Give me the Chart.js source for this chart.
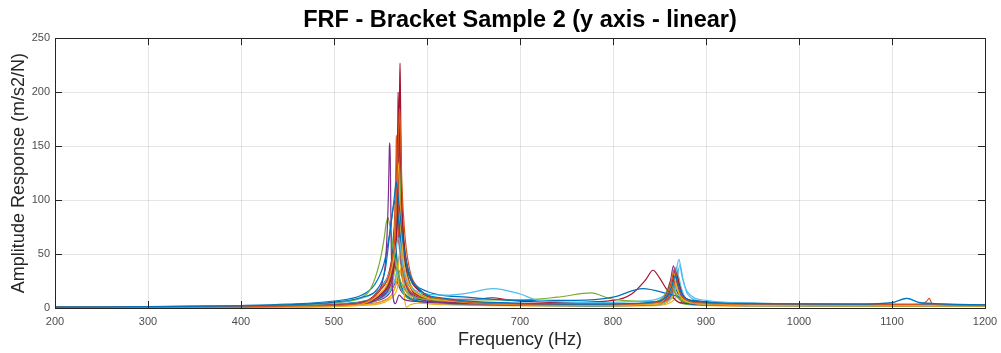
<!DOCTYPE html>
<html>
<head>
<meta charset="utf-8">
<script src="https://cdn.jsdelivr.net/npm/chart.js@4.4.1/dist/chart.umd.min.js"></script>
<style>
  html, body { margin: 0; padding: 0; background: #fff; }
</style>
</head>
<body>
<canvas id="frfChart" width="1001" height="353"></canvas>
<script>
// Axis ticks
const freqTicks = [200, 300, 400, 500, 600, 700, 800, 900, 1000, 1100, 1200];
const ampTicks = [0, 50, 100, 150, 200, 250];

const f01 = [200,300,400,450,500,530,546,555,560,564.5,566,567,568,569.5,574,580,592,620,700,780,847,859,864,867,870,875,892,950,1050,1100,1116,1130,1200];
const a01 = [0.8,1.2,2.0,3.0,5.5,10,17,35,69,100,112,117,110,100,62,35,17,9,4.5,3.5,6,12,22,30,22,12,6,4,3.5,5,9,5,3];
const f02 = [200,300,400,450,500,530,551,561,566,568,569.5,570.5,571.5,573,576,581,591,620,700,780,846,858,863,866,869,874,891,950,1050,1130,1137,1140,1143,1150,1200];
const a02 = [0.5,0.7,1.1,1.6,2.6,4.5,18.5,37,74,126,166,185,163,115,70,37,18.5,8,3.5,3,5,12,25,36,25,12,5,3.5,3,3.5,6,9,4,3,2.5];
const f03 = [200,300,400,450,500,530,549,559,564,566.5,568,569,570,571.5,574,579,589,620,700,780,845,857,862,865,868,873,890,950,1050,1200];
const a03 = [0.3,0.5,0.8,1.2,2.0,3.8,13.5,27,51,92,122,135,119,84,51,27,13.5,7,3,2.5,4,10,22,33,22,10,4.5,3,2.5,2];
const f04 = [200,300,400,450,500,530,545,552,556,558.5,559.5,560,560.5,561.5,563,566,570,575,590,620,700,780,845,857,862,865,868,873,890,950,1050,1200];
const a04 = [0.5,0.8,1.2,1.8,3.0,5.5,12,24,50,105,148,153,140,60,15,4,12,8,6,4.5,3.5,3,5,12,26,39,26,12,5,3.5,3,2.5];
const f05 = [200,300,400,450,500,530,539,549,554,556,557.5,558,558.5,560,562,567,578,600,650,700,780,842,854,859,862,865,870,887,950,1050,1200];
const a05 = [0.7,1.1,1.8,2.8,5.0,10,17,42,65,78,83,84,83,76,65,38,15,8,5.5,4,3.5,5,10,18,25,18,9,4.5,3.5,3,2.5];
const f06 = [200,300,400,450,500,530,545,555,562,566,568,569.5,571,573,577,585,600,620,645,671,700,720,780,840,856,864,868,871,874,880,900,950,1050,1200];
const a06 = [0.7,1.0,1.6,2.4,4.5,9,15,24,38,52,62,65,60,45,28,18,13,12,14,18,13,7,5,7,12,22,35,45,30,15,7,4.5,3.5,3];
const f07 = [200,300,400,450,500,530,552,562,567,569.5,570.5,571,571.5,572.5,575,580,590,620,700,780,847,859,864,867,870,875,892,950,1050,1200];
const a07 = [0.4,0.6,1.0,1.5,2.5,4.5,14,30,62,130,200,227,195,120,58,26,12,6,3.5,3,5,12,26,35,26,12,5,3.5,3,2.5];
const f08 = [200,300,400,450,500,530,544,554,560,563.5,565,566,567,568.5,572,578,593,643,700,760,800,832,860,886,950,1050,1200];
const a08 = [0.9,1.4,2.3,3.5,6.5,12,22,42,70,92,98,100,97,88,62,36,18,10,7,7,10,18,13,7,4.5,3.5,3];
const f09 = [200,300,400,450,500,530,550,559,564,566.5,567.5,568,568.5,569.5,572,577,588,620,700,780,848,860,865,868,871,876,893,950,1050,1200];
const a09 = [0.5,0.7,1.1,1.6,2.7,4.8,12,24,46,82,108,120,106,74,46,24,12,7,3.5,3,4.5,10,20,28,20,10,4.5,3.5,3,2.5];
const f10 = [200,300,400,450,500,530,552,562,567,570,571,572,573,574.5,576,578,582,590,620,700,780,850,862,866,869,872,877,895,950,1050,1200];
const a10 = [0.3,0.4,0.6,0.9,1.5,2.8,6,12,24,45,56,60,50,25,8,0.8,3,4.5,4,3,2.5,3.5,8,14,20,14,7,3.5,2.5,2,2];
const f11 = [200,300,400,450,500,530,549,559,564,566.5,568,569,570,571.5,574,579,589,620,700,780,846,858,863,866,869,874,891,950,1050,1200];
const a11 = [0.4,0.6,1.0,1.4,2.4,4.2,9,18,34,61,81,90,79,56,34,18,9,5,3.5,3,4.5,11,24,35,24,11,5,3.5,3,2.5];
const f12 = [200,300,400,450,500,530,550,560,565,567.5,569,570,571,572.5,575,580,590,620,700,740,777,795,810,845,856,861,864,867,872,890,950,1050,1200];
const a12 = [0.6,0.8,1.3,1.9,3.2,5.8,14,28,53,95,126,140,123,87,53,28,14,8,7.5,10,14,9,7,6,9,14,18,14,8,5,4,3.5,3];
const f13 = [200,300,400,450,500,530,551,561,566,569,570,571,572,573.5,576,581,591,620,700,780,852,864,869,872,875,880,897,950,1050,1100,1116,1130,1200];
const a13 = [0.6,0.8,1.2,1.8,3.0,5,10,17,28,42,48,50,46,36,24,14,9,6,4,3.5,5,12,28,40,28,13,6,4,3.5,5,9,5,3];
const f14 = [200,300,400,450,500,530,550,560,565,567.5,569,570,571,572.5,575,580,590,620,650,670,690,750,800,820,835,843,850,858,872,900,950,1050,1200];
const a14 = [0.5,0.7,1.1,1.7,2.8,5,17,34,65,116,153,170,150,105,65,34,17,8,8,9.5,7,5,7,13,26,35,28,17,5,4,3.5,3,3];
const f15 = [200,300,400,450,500,530,545,555,560,563,564,565,566,567.5,570,575,585,620,700,780,846,858,863,866,869,874,891,950,1050,1200];
const a15 = [0.3,0.5,0.8,1.2,2.0,3.8,7.5,15,28.5,51,67.5,75,66,46.5,28.5,15,7.5,4,2.5,2,3,6,11,15,11,6,3,2.2,2,1.8];
const f16 = [200,300,400,450,500,530,549,559,564,566,566.8,567,567.5,568.5,571,576,586,620,700,780,847,859,864,867,870,875,892,950,1050,1200];
const a16 = [0.4,0.6,0.9,1.4,2.3,4.2,16,32,61,109,144,160,141,99,61,32,16,7,3,2.5,4,9,18,25,18,9,4,3,2.5,2];
const f17 = [200,300,400,450,500,530,553,563,568,571,572,573,574,575.5,578,583,593,620,700,780,850,862,867,870,873,878,895,950,1050,1200];
const a17 = [0.2,0.3,0.5,0.8,1.3,2.3,5,10,18,32,38,40,36,27,16,9,5,3,2,1.8,2.5,5,9,12,9,5,2.5,1.8,1.6,1.5];
const f18 = [200,300,400,450,500,530,550,559,564,566.5,567.5,568,568.5,569.5,572,577,588,620,700,780,848,860,865,868,871,876,893,950,1050,1200];
const a18 = [0.5,0.7,1.1,1.6,2.7,4.6,11,22,42,75,99,110,97,68,42,22,11,6,3.5,3,4,8,16,22,16,8,4,3,2.5,2.2];
const f19 = [200,300,400,450,500,530,546,556,561,564,565,566,567,568.5,571,576,586,620,700,780,843,855,860,863,866,871,888,950,1050,1200];
const a19 = [0.4,0.6,0.9,1.3,2.2,3.8,8,14,26,42,52,55,50,36,22,12,7,4.5,3,2.5,3,5,8,10,8,5,3,2.5,2.2,2];
const f20 = [200,300,400,450,500,530,548,558,563,566,567,568,569,570.5,573,578,588,620,700,780,850,862,867,870,873,878,895,950,1050,1200];
const a20 = [0.5,0.7,1.1,1.6,2.6,4.5,8,13,20,26,29,30,28,23,16,10,7,5,3.5,3,4,9,20,30,20,9,4.5,3.5,3,2.8];
const f21 = [200,300,400,450,500,530,551,561,566,568,568.7,569,569.4,570.5,573,578,588,620,700,780,846,858,863,866,869,874,891,950,1050,1200];
const a21 = [0.5,0.7,1.0,1.5,2.5,4.5,20,40,76,136,180,200,176,124,76,40,20,8,3.5,3,4.5,10,22,32,22,10,4.5,3.5,3,2.6];
const f22 = [200,300,400,450,500,530,544,554,559,562,563,564,565,566.5,569,574,584,620,700,780,846,858,863,866,869,874,891,950,1050,1200];
const a22 = [0.6,0.9,1.4,2.1,3.5,6,9,15,26,38,43,45,43,36,26,15,9,6,4,3.5,4,8,15,20,15,8,4,3.5,3,2.8];
const f23 = [200,300,400,450,500,530,551,561,566,569,570,571,572,573.5,576,581,591,620,700,780,848,860,865,868,871,876,893,950,1050,1200];
const a23 = [0.3,0.5,0.8,1.2,2.0,3.5,6,11,20,29,33,35,33,27,19,11,6,4,3,2.5,4,10,24,38,24,10,4.5,3,2.5,2.2];
const f24 = [200,300,400,450,500,530,550,560,565,567.5,569,570,571,572.5,575,580,590,620,700,780,844,856,861,864,867,872,889,950,1050,1200];
const a24 = [0.4,0.6,0.9,1.3,2.2,3.8,9,19,36,65,86,95,84,59,36,19,9,5,3,2.5,4,9,20,30,20,9,4,3,2.5,2.2];
const f25 = [200,300,400,450,500,530,547,557,562,565,566,567,568,569.5,572,577,587,620,700,780,847,859,864,867,870,875,892,950,1050,1200];
const a25 = [0.5,0.7,1.0,1.5,2.4,4,7,11,17,22,24,25,24,21,16,11,7,5,3.5,3,3.5,6,10,12,10,6,3.5,3,2.8,2.5];
const f26 = [200,300,400,450,500,530,549,559,564,566.5,568,569,570,571.5,574,579,589,620,700,780,846,858,863,866,869,874,891,950,1050,1200];
const a26 = [0.5,0.7,1.1,1.6,2.7,4.6,9,16,28,48,64,70,63,46,28,16,9,6,4,3.5,4.5,10,20,28,20,10,4.5,3.5,3,2.6];

const freqSets = [f01,f02,f03,f04,f05,f06,f07,f08,f09,f10,f11,f12,f13,f14,f15,f16,f17,f18,f19,f20,f21,f22,f23,f24,f25,f26];
const ampSets = [a01,a02,a03,a04,a05,a06,a07,a08,a09,a10,a11,a12,a13,a14,a15,a16,a17,a18,a19,a20,a21,a22,a23,a24,a25,a26];

// MATLAB default line colours
const lineColors = ["#0072BD", "#D95319", "#EDB120", "#7E2F8E", "#77AC30", "#4DBEEE", "#A2142F"];

const axisColor = "#262626";
const fontFamily = "'Liberation Sans', Arial, sans-serif";

const datasets = ampSets.map((amps, i) => ({
  label: "Point " + (i + 1),
  data: amps.map((y, j) => ({ x: freqSets[i][j], y: y })),
  borderColor: lineColors[i % lineColors.length],
  borderWidth: 1.2,
  pointRadius: 0,
  cubicInterpolationMode: "monotone",
  fill: false
}));

// Box around the axes with inward tick marks (MATLAB style)
const axesFrame = {
  id: "axesFrame",
  afterDatasetsDraw(chart) {
    const { ctx, chartArea: a, scales } = chart;
    const tl = 7;
    ctx.save();
    ctx.strokeStyle = axisColor;
    ctx.lineWidth = 1;
    ctx.beginPath();
    scales.x.ticks.forEach(t => {
      const px = Math.round(scales.x.getPixelForValue(t.value)) + 0.5;
      ctx.moveTo(px, a.bottom); ctx.lineTo(px, a.bottom - tl);
      ctx.moveTo(px, a.top); ctx.lineTo(px, a.top + tl);
    });
    scales.y.ticks.forEach(t => {
      const py = Math.round(scales.y.getPixelForValue(t.value)) + 0.5;
      ctx.moveTo(a.left, py); ctx.lineTo(a.left + tl, py);
      ctx.moveTo(a.right, py); ctx.lineTo(a.right - tl, py);
    });
    ctx.stroke();
    ctx.strokeRect(Math.round(a.left) + 0.5, Math.round(a.top) + 0.5,
      Math.round(a.right - a.left), Math.round(a.bottom - a.top));
    ctx.restore();
  }
};

const ctx = document.getElementById("frfChart").getContext("2d");
const chart = new Chart(ctx, {
  type: "line",
  data: { datasets: datasets },
  plugins: [axesFrame],
  options: {
    responsive: false,
    animation: false,
    devicePixelRatio: 1,
    layout: { padding: { top: 0, right: 16, bottom: 0, left: 0 } },
    plugins: {
      legend: { display: false },
      tooltip: { enabled: false },
      title: {
        display: true,
        fullSize: false,
        text: "FRF - Bracket Sample 2 (y axis - linear)",
        color: "#000",
        font: { family: fontFamily, size: 23.5, weight: "bold" },
        padding: { top: 6, bottom: 4 }
      }
    },
    scales: {
      x: {
        type: "linear",
        min: freqTicks[0],
        max: freqTicks[freqTicks.length - 1],
        afterBuildTicks: scale => { scale.ticks = freqTicks.map(v => ({ value: v })); },
        afterFit: scale => { scale.height = 45; scale.paddingRight = 8; },
        ticks: {
          color: "#4d4d4d",
          font: { family: fontFamily, size: 11 },
          padding: 7,
          maxRotation: 0,
          autoSkip: false,
          callback: v => String(v)
        },
        grid: { color: "rgba(38,38,38,0.12)", drawTicks: false },
        border: { display: false },
        title: {
          display: true,
          text: "Frequency (Hz)",
          color: axisColor,
          font: { family: fontFamily, size: 18 },
          padding: { top: 0, bottom: 2 }
        }
      },
      y: {
        min: ampTicks[0],
        max: ampTicks[ampTicks.length - 1],
        afterBuildTicks: scale => { scale.ticks = ampTicks.map(v => ({ value: v })); },
        afterFit: scale => { scale.width = 55; },
        ticks: {
          color: "#4d4d4d",
          font: { family: fontFamily, size: 11 },
          padding: 5,
          callback: v => String(v)
        },
        grid: { color: "rgba(38,38,38,0.12)", drawTicks: false },
        border: { display: false },
        title: {
          display: true,
          text: "Amplitude Response (m/s2/N)",
          color: axisColor,
          font: { family: fontFamily, size: 18 },
          padding: { top: 8, bottom: 0 }
        }
      }
    }
  }
});
</script>
</body>
</html>
